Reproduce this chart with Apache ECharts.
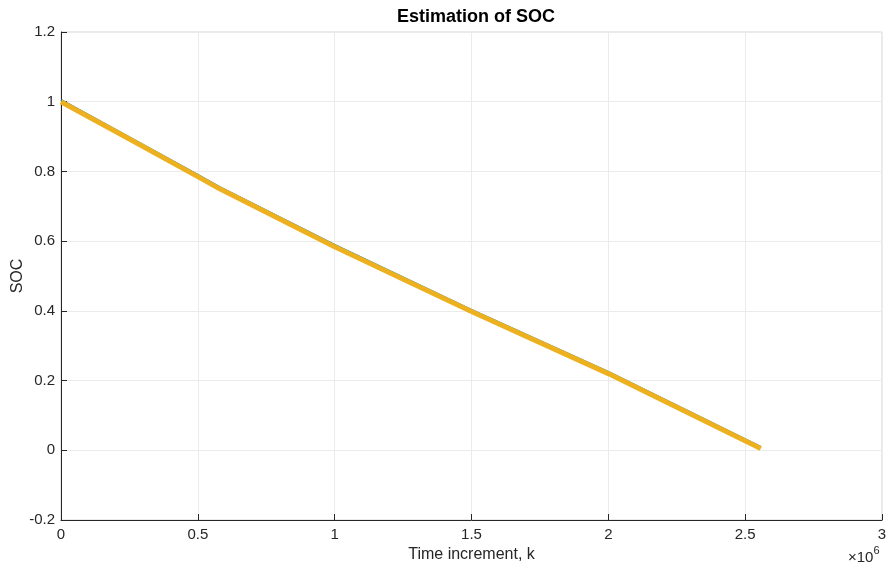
<!DOCTYPE html>
<html>
<head>
<meta charset="utf-8">
<script src="https://cdn.jsdelivr.net/npm/echarts@6/dist/echarts.min.js"></script>
<style>
  html, body { margin: 0; padding: 0; background: #ffffff; }
  #chart { width: 889px; height: 569px; }
</style>
</head>
<body>
<div id="chart"></div>
<script>
// Time increments (k) at the break points of the SOC trace
var kSteps = [0, 250000, 500000, 580000, 1000000, 1500000, 2000000, 2557000];
// Reference (true) state of charge
var socTrue = [1.000, 0.893, 0.785, 0.750, 0.584, 0.398, 0.220, 0.005];
// Estimated state of charge from the filter
var socEst = [1.005, 0.898, 0.790, 0.755, 0.589, 0.403, 0.225, 0.010];

function pairs(xs, ys) {
  return xs.map(function (x, i) { return [x, ys[i]]; });
}

var font = 'Liberation Sans, Arial, Helvetica, sans-serif';
var chart = echarts.init(document.getElementById('chart'), null, { renderer: 'canvas' });

chart.setOption({
  animation: false,
  backgroundColor: '#ffffff',
  title: {
    text: 'Estimation of SOC',
    left: 471, top: 3, textAlign: 'center',
    textStyle: { fontFamily: font, fontSize: 18, fontWeight: 'bold', color: '#000000' }
  },
  grid: {
    left: 61, right: 7, top: 32, bottom: 49,
    containLabel: false, outerBoundsMode: 'none',
    show: true, borderColor: '#d4d4d4', borderWidth: 1, backgroundColor: 'transparent'
  },
  xAxis: {
    type: 'value', min: 0, max: 3000000, interval: 500000,
    name: 'Time increment, k', nameLocation: 'middle', nameGap: 26,
    nameTextStyle: { fontFamily: font, fontSize: 16, color: '#262626' },
    axisLine: { show: true, onZero: false, lineStyle: { color: '#262626', width: 1 } },
    axisTick: { show: true, inside: true, length: 6, lineStyle: { color: '#262626' } },
    axisLabel: {
      fontFamily: font, fontSize: 15, color: '#262626', margin: 7,
      formatter: function (v) { return String(v / 1000000); }
    },
    splitLine: { show: true, lineStyle: { color: '#ebebeb', width: 1 } }
  },
  yAxis: {
    type: 'value', min: -0.2, max: 1.2, interval: 0.2,
    axisLine: { show: true, onZero: false, lineStyle: { color: '#262626', width: 1 } },
    axisTick: { show: true, inside: true, length: 6, lineStyle: { color: '#262626' } },
    axisLabel: {
      fontFamily: font, fontSize: 15, color: '#262626', margin: 6,
      formatter: function (v) { return String(Math.round(v * 10) / 10); }
    },
    splitLine: { show: true, lineStyle: { color: '#ebebeb', width: 1 } }
  },
  graphic: [
    {
      // y-axis title, rotated to read bottom-to-top
      type: 'text',
      x: 18, y: 276, rotation: Math.PI / 2,
      style: {
        text: 'SOC', fontFamily: font, fontSize: 16, fill: '#262626',
        align: 'center', verticalAlign: 'middle'
      }
    },
    {
      type: 'text',
      left: 848, top: 545,
      style: {
        text: '{t|×10}{s|6}',
        rich: {
          t: { fontFamily: font, fontSize: 15, fill: '#262626', verticalAlign: 'bottom' },
          s: { fontFamily: font, fontSize: 11, fill: '#262626', padding: [0, 0, 9, 0] }
        }
      }
    }
  ],
  series: [
    {
      type: 'line', name: 'estimated', data: pairs(kSteps, socEst),
      showSymbol: false, smooth: false,
      lineStyle: { color: '#0072BD', width: 2 }
    },
    {
      type: 'line', name: 'true', data: pairs(kSteps, socTrue),
      showSymbol: false, smooth: false,
      lineStyle: { color: '#EDB120', width: 5 }
    }
  ]
});
</script>
</body>
</html>
